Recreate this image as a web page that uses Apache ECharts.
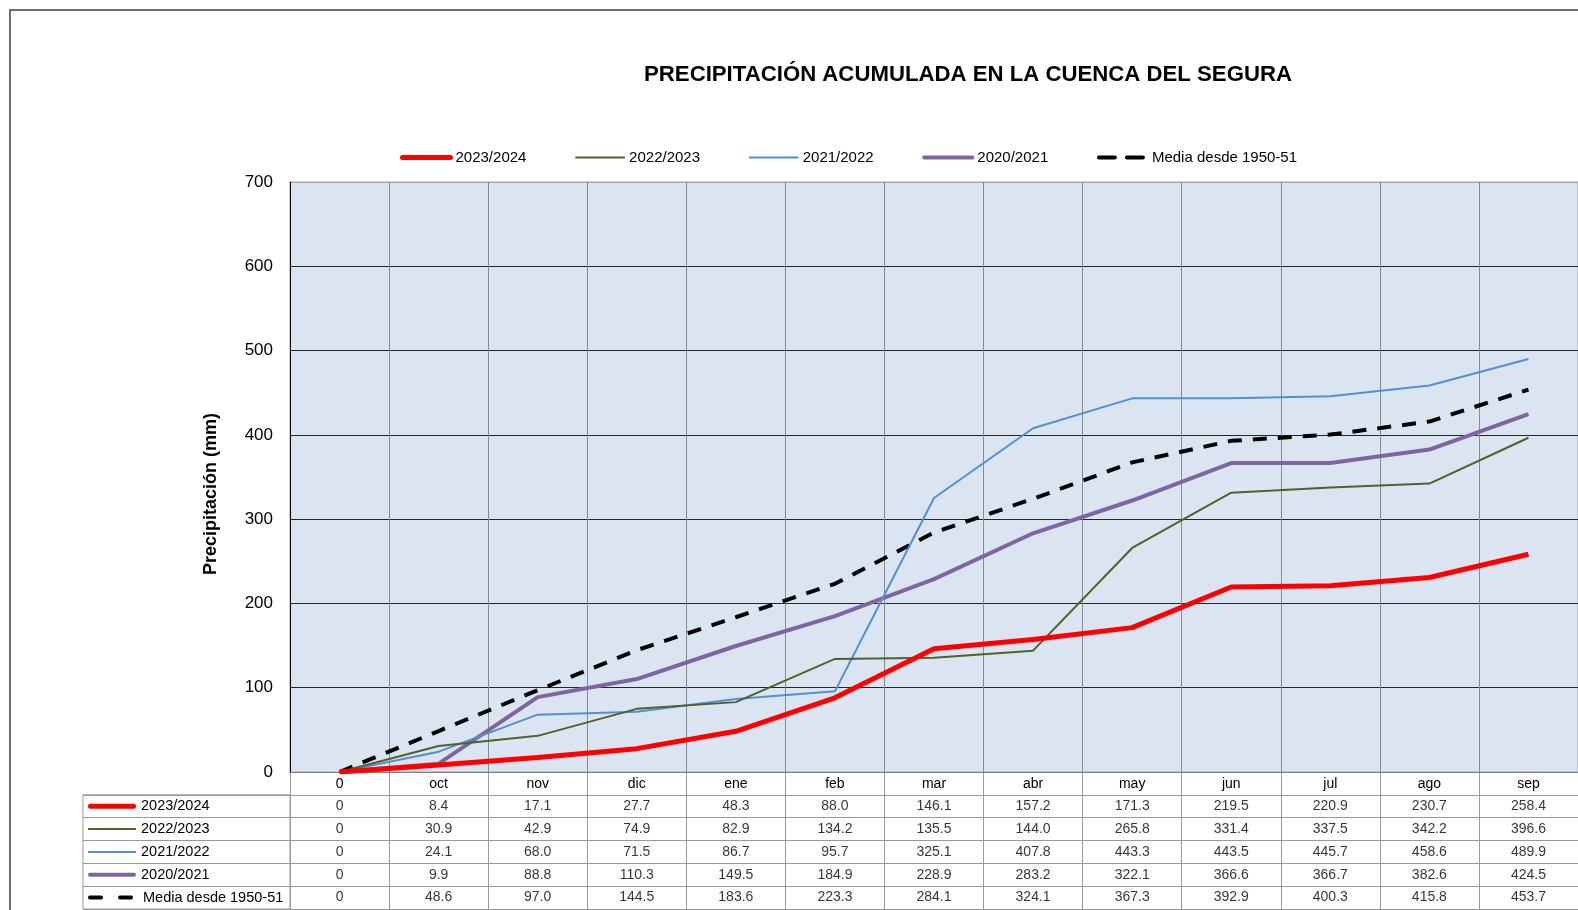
<!DOCTYPE html>
<html>
<head>
    <meta charset="utf-8">
    <title>Precipitación acumulada</title>
    <script src="https://cdn.jsdelivr.net/npm/echarts@6/dist/echarts.min.js"></script>
    <style>
        html, body { margin: 0; padding: 0; background: #fff; }
    </style>
</head>
<body>
<div id="main" style="width: 1578px;height:910px;"></div>
<script type="text/javascript">
    var meses = ['0', 'oct', 'nov', 'dic', 'ene', 'feb', 'mar', 'abr', 'may', 'jun', 'jul', 'ago', 'sep'];
    var nombres = ['2023/2024', '2022/2023', '2021/2022', '2020/2021', 'Media desde 1950-51'];
    var p2324 = [0, 8.4, 17.1, 27.7, 48.3, 88.0, 146.1, 157.2, 171.3, 219.5, 220.9, 230.7, 258.4];
    var p2223 = [0, 30.9, 42.9, 74.9, 82.9, 134.2, 135.5, 144.0, 265.8, 331.4, 337.5, 342.2, 396.6];
    var p2122 = [0, 24.1, 68.0, 71.5, 86.7, 95.7, 325.1, 407.8, 443.3, 443.5, 445.7, 458.6, 489.9];
    var p2021 = [0, 9.9, 88.8, 110.3, 149.5, 184.9, 228.9, 283.2, 322.1, 366.6, 366.7, 382.6, 424.5];
    var media = [0, 48.6, 97.0, 144.5, 183.6, 223.3, 284.1, 324.1, 367.3, 392.9, 400.3, 415.8, 453.7];
    var ejeY = [0, 100, 200, 300, 400, 500, 600, 700];

    var valores = [p2324, p2223, p2122, p2021, media];
    var estilos = [
        {color: '#ff0000', width: 5},
        {color: '#4f6228', width: 2},
        {color: '#558ed5', width: 2},
        {color: '#8064a2', width: 4},
        {color: '#000000', width: 4, type: [14, 11]}
    ];
    var fuente = '"Liberation Sans", Arial, sans-serif';

    var myChart = echarts.init(document.getElementById('main'));

    var series = [];
    var leyenda = [];
    for (var i = 0; i < nombres.length; i++) {
        series.push({
            name: nombres[i],
            type: 'line',
            xAxisIndex: 0,
            yAxisIndex: 0,
            symbol: 'none',
            data: valores[i],
            lineStyle: estilos[i],
            itemStyle: {color: estilos[i].color},
            z: 10 - i
        });
        leyenda.push({
            name: nombres[i],
            lineStyle: {width: estilos[i].width, type: i === 4 ? [16, 12] : 'solid', cap: 'round'}
        });
    }
    // celdas de la tabla de datos
    for (var r = 0; r < nombres.length; r++) {
        var filas = [];
        for (var c = 0; c < meses.length; c++) {
            filas.push([c, r + 1, valores[r][c]]);
        }
        series.push({
            name: 'tabla' + r,
            type: 'scatter',
            xAxisIndex: 1,
            yAxisIndex: 1,
            symbolSize: 0,
            silent: true,
            data: filas,
            label: {
                show: true,
                position: 'inside',
                color: '#000',
                fontFamily: fuente,
                fontSize: 14,
                formatter: function (p) {
                    var v = p.value[2];
                    return v === 0 ? '0' : v.toFixed(1);
                }
            }
        });
    }

    var claves = {
        k0: {width: 48, height: 5, backgroundColor: '#ff0000', borderRadius: 2.5},
        k1: {width: 48, height: 2, backgroundColor: '#4f6228'},
        k2: {width: 48, height: 2, backgroundColor: '#558ed5'},
        k3: {width: 48, height: 4, backgroundColor: '#8064a2', borderRadius: 2},
        d: {width: 15, height: 4, backgroundColor: '#000', borderRadius: 2},
        sp: {width: 15, height: 4},
        t: {fontFamily: fuente, fontSize: 14.5, color: '#000', padding: [0, 0, 0, 5]},
        t4: {fontFamily: fuente, fontSize: 14.5, color: '#000', padding: [0, 0, 0, 10]}
    };

    var option = {
        animation: false,
        backgroundColor: '#fff',
        textStyle: {fontFamily: fuente},
        legend: {
            data: leyenda,
            left: 395,
            top: 145,
            itemWidth: 48,
            itemHeight: 14,
            itemGap: 48.7,
            itemStyle: {opacity: 0},
            textStyle: {fontFamily: fuente, fontSize: 15, color: '#000'}
        },
        graphic: [
            {
                type: 'rect',
                shape: {x: 10, y: 10, width: 1620, height: 960},
                style: {fill: 'none', stroke: '#404040', lineWidth: 1.5},
                silent: true
            },
            {
                type: 'text',
                x: 968,
                y: 74.5,
                style: {
                    text: 'PRECIPITACIÓN ACUMULADA EN LA CUENCA DEL SEGURA',
                    fontFamily: fuente,
                    fontWeight: 'bold',
                    fontSize: 22.2,
                    fill: '#000',
                    align: 'center',
                    verticalAlign: 'middle'
                }
            },
            {
                type: 'text',
                x: 211,
                y: 494,
                rotation: Math.PI / 2,
                style: {
                    text: 'Precipitación (mm)',
                    fontFamily: fuente,
                    fontWeight: 'bold',
                    fontSize: 18,
                    fill: '#000',
                    align: 'center',
                    verticalAlign: 'middle'
                }
            }
        ],
        grid: [
            {left: 290, top: 182, width: 1290, height: 590, show: true,
                backgroundColor: '#dbe5f1', borderColor: '#a6a6a6', borderWidth: 1},
            {left: 290, top: 772, width: 1290, height: 137, show: false},
            {left: 83, top: 794.8, width: 207, height: 114.2, show: true,
                backgroundColor: '#fff', borderColor: '#999', borderWidth: 1}
        ],
        xAxis: [
            {
                type: 'category',
                gridIndex: 0,
                data: meses,
                boundaryGap: true,
                axisLine: {lineStyle: {color: '#808080', width: 1}},
                axisTick: {show: false},
                axisLabel: {interval: 0, margin: 5, color: '#000', fontFamily: fuente, fontSize: 14},
                splitLine: {show: true, interval: 0, lineStyle: {color: '#8c8c8c', width: 1}}
            },
            {
                type: 'category',
                gridIndex: 1,
                data: meses,
                boundaryGap: true,
                axisLine: {show: false},
                axisTick: {show: false},
                axisLabel: {show: false},
                splitLine: {show: true, interval: 0, lineStyle: {color: '#999', width: 1}}
            },
            {
                type: 'category',
                gridIndex: 2,
                data: [''],
                axisLine: {show: false},
                axisTick: {show: false},
                axisLabel: {show: false},
                splitLine: {show: false}
            }
        ],
        yAxis: [
            {
                type: 'value',
                gridIndex: 0,
                min: ejeY[0],
                max: ejeY[ejeY.length - 1],
                interval: 100,
                axisLine: {show: true, lineStyle: {color: '#000', width: 1}},
                axisTick: {show: false},
                axisLabel: {margin: 17, color: '#000', fontFamily: fuente, fontSize: 17},
                splitLine: {
                    show: true,
                    lineStyle: {
                        color: ['#262626', '#262626', '#262626', '#262626', '#262626', '#262626', '#262626', '#a6a6a6'],
                        width: 1
                    }
                }
            },
            {
                type: 'category',
                gridIndex: 1,
                inverse: true,
                data: [''].concat(nombres),
                axisLine: {show: false},
                axisTick: {show: false},
                axisLabel: {show: false},
                splitLine: {show: true, interval: 0, lineStyle: {color: '#999', width: 1}}
            },
            {
                type: 'category',
                gridIndex: 2,
                inverse: true,
                data: nombres,
                axisLine: {show: false},
                axisTick: {show: false},
                axisLabel: {
                    inside: true,
                    interval: 0,
                    margin: 5,
                    formatter: function (v, idx) {
                        if (idx === 4) {
                            return '{d| }{sp| }{d| }{t4|' + v + '}';
                        }
                        return '{k' + idx + '| }{t|' + v + '}';
                    },
                    rich: claves
                },
                splitLine: {show: true, interval: 0, lineStyle: {color: '#999', width: 1}}
            }
        ],
        series: series
    };

    myChart.setOption(option);
</script>
</body>
</html>
